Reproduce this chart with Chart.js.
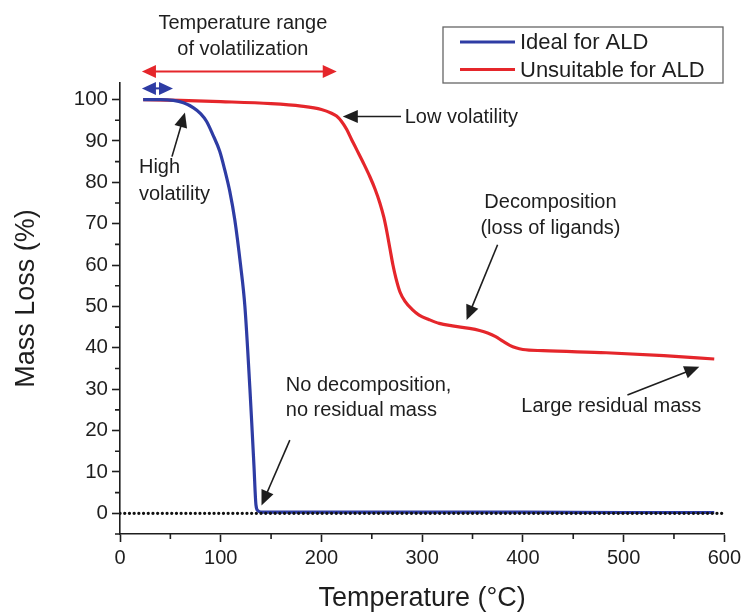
<!DOCTYPE html>
<html>
<head>
<meta charset="utf-8">
<title>TGA curves</title>
<script src="https://cdn.jsdelivr.net/npm/chart.js@4.4.1/dist/chart.umd.min.js"></script>
<style>
  html, body { margin: 0; padding: 0; background: #fff; }
  #wrap { width: 745px; height: 612px; }
</style>
</head>
<body>
<div id="wrap"><canvas id="tgaChart" width="745" height="612"></canvas></div>
<script>
// values
const idealTemp = [23, 40, 53, 63, 73, 80, 86, 92, 99, 104, 109, 114, 119.7, 124, 129, 131.2, 133, 135, 137, 140, 200, 300, 400, 500, 590];
const idealMass = [100, 100, 99.8, 99.2, 98, 96.6, 94.7, 91.6, 87.5, 83, 77.8, 70.9, 60, 50, 30, 20, 11.5, 2, 0.6, 0.3, 0.3, 0.3, 0.3, 0.2, 0.2];

const unsuitTemp = [23, 60, 100, 150, 180, 200, 210, 215, 220, 225, 230, 235, 242, 248, 253, 258, 262, 265, 268, 271, 274, 278, 283, 290, 297, 307, 317, 330, 347, 357, 365, 373, 380, 387, 393, 400, 420, 482.7, 540, 590];
const unsuitMass = [100, 99.8, 99.5, 99, 98.4, 97.6, 96.7, 96, 94.7, 92.8, 90.3, 87.9, 84.5, 81.4, 78.5, 75, 71.5, 68, 64, 60, 56.8, 53.5, 51.2, 49.3, 47.9, 46.8, 45.9, 45.3, 44.7, 44.2, 43.6, 42.7, 41.6, 40.6, 40, 39.6, 39.3, 38.8, 38.1, 37.3];

const baseTemp = [0, 598];
const baseMass = [0, 0];

const seriesNames = ['Ideal for ALD', 'Unsuitable for ALD'];
const xTitle = 'Temperature (°C)';
const yTitle = 'Mass Loss (%)';
const xRange = [0, 600];
const yRange = [-5, 104];

const BLUE = '#2e3ca4';
const RED = '#e5262b';
const INK = '#1e1e1e';
const FONT = '"Liberation Sans", Arial, Helvetica, sans-serif';

Chart.defaults.font.family = FONT;
Chart.defaults.color = INK;

const toPoints = (xs, ys) => xs.map((x, i) => ({ x: x, y: ys[i] }));

// annotation text + arrows, placed in data units
const notes = [
  { lines: ['Temperature range', 'of volatilization'], x: 122, y: 118.4, gap: 6.3, align: 'center' },
  { lines: ['Low volatility'], x: 282.6, y: 95.6, gap: 0, align: 'left' },
  { lines: ['High', 'volatility'], x: 18.8, y: 83.5, gap: 6.5, align: 'left' },
  { lines: ['Decomposition', '(loss of ligands)'], x: 427.4, y: 75.1, gap: 6.3, align: 'center' },
  { lines: ['No decomposition,', 'no residual mass'], x: 164.6, y: 31, gap: 6.1, align: 'left' },
  { lines: ['Large residual mass'], x: 398.4, y: 25.7, gap: 0, align: 'left' }
];
const pointers = [
  { from: [279, 95.9], to: [221.2, 95.9] },
  { from: [51.6, 86.2], to: [64.5, 96.9] },
  { from: [374.9, 64.9], to: [344.1, 46.7] },
  { from: [168.6, 17.7], to: [140.5, 1.9] },
  { from: [503.8, 28.6], to: [575.2, 35.4] }
];
const spans = [
  { from: 21.8, to: 215.2, y: 106.8, color: RED },
  { from: 21.8, to: 52.6, y: 102.7, color: BLUE }
];

function head(ctx, x1, y1, x2, y2, len, half) {
  const a = Math.atan2(y2 - y1, x2 - x1);
  const c = Math.cos(a), s = Math.sin(a);
  ctx.beginPath();
  ctx.moveTo(x2, y2);
  ctx.lineTo(x2 - len * c + half * s, y2 - len * s - half * c);
  ctx.lineTo(x2 - len * c - half * s, y2 - len * s + half * c);
  ctx.closePath();
  ctx.fill();
}

const annotate = {
  id: 'annotate',
  afterDraw(chart) {
    const ctx = chart.ctx;
    const xs = chart.scales.x, ys = chart.scales.y;
    const area = chart.chartArea;
    ctx.save();

    // minor ticks
    ctx.strokeStyle = INK;
    ctx.lineWidth = 1.6;
    ctx.beginPath();
    for (let v = 50; v < 600; v += 100) {
      const px = xs.getPixelForValue(v);
      ctx.moveTo(px, area.bottom);
      ctx.lineTo(px, area.bottom + 5);
    }
    for (let v = -5; v < 100; v += 10) {
      const py = ys.getPixelForValue(v);
      ctx.moveTo(area.left, py);
      ctx.lineTo(area.left - 5, py);
    }
    ctx.stroke();

    // y axis title (sits a little above the centre of the axis)
    ctx.save();
    ctx.translate(27, (area.top + area.bottom) / 2 - 10);
    ctx.rotate(-Math.PI / 2);
    ctx.fillStyle = INK;
    ctx.font = '27px ' + FONT;
    ctx.textAlign = 'center';
    ctx.textBaseline = 'middle';
    ctx.fillText(yTitle, 0, 0);
    ctx.restore();

    // text notes
    ctx.fillStyle = INK;
    ctx.font = '20px ' + FONT;
    ctx.textBaseline = 'middle';
    notes.forEach(n => {
      ctx.textAlign = n.align;
      n.lines.forEach((t, i) => {
        ctx.fillText(t, xs.getPixelForValue(n.x), ys.getPixelForValue(n.y - i * n.gap));
      });
    });

    // black pointer arrows
    ctx.strokeStyle = INK;
    ctx.fillStyle = INK;
    ctx.lineWidth = 1.6;
    pointers.forEach(p => {
      const x1 = xs.getPixelForValue(p.from[0]), y1 = ys.getPixelForValue(p.from[1]);
      const x2 = xs.getPixelForValue(p.to[0]), y2 = ys.getPixelForValue(p.to[1]);
      const a = Math.atan2(y2 - y1, x2 - x1);
      ctx.beginPath();
      ctx.moveTo(x1, y1);
      ctx.lineTo(x2 - 10 * Math.cos(a), y2 - 10 * Math.sin(a));
      ctx.stroke();
      head(ctx, x1, y1, x2, y2, 15, 6.5);
    });

    // double-headed range arrows
    spans.forEach(s => {
      const x1 = xs.getPixelForValue(s.from), x2 = xs.getPixelForValue(s.to);
      const y = ys.getPixelForValue(s.y);
      ctx.strokeStyle = s.color;
      ctx.fillStyle = s.color;
      ctx.lineWidth = 2;
      ctx.beginPath();
      ctx.moveTo(x1 + 8, y);
      ctx.lineTo(x2 - 8, y);
      ctx.stroke();
      head(ctx, x2, y, x1, y, 14, 6.5);
      head(ctx, x1, y, x2, y, 14, 6.5);
    });

    // boxed legend
    const bx = 443, by = 27, bw = 280, bh = 56;
    ctx.strokeStyle = '#666';
    ctx.lineWidth = 1.3;
    ctx.strokeRect(bx, by, bw, bh);
    ctx.font = '22px ' + FONT;
    ctx.textAlign = 'left';
    [0, 1].forEach(i => {
      const ds = chart.data.datasets[i];
      const ly = by + 15 + i * 27.5;
      ctx.strokeStyle = ds.borderColor;
      ctx.lineWidth = 3;
      ctx.beginPath();
      ctx.moveTo(bx + 17, ly);
      ctx.lineTo(bx + 72, ly);
      ctx.stroke();
      ctx.fillStyle = INK;
      ctx.fillText(ds.label, bx + 77, ly + 1);
    });

    ctx.restore();
  }
};

new Chart(document.getElementById('tgaChart'), {
  type: 'line',
  data: {
    datasets: [
      {
        label: seriesNames[0],
        data: toPoints(idealTemp, idealMass),
        borderColor: BLUE,
        borderWidth: 3.2,
        pointRadius: 0,
        cubicInterpolationMode: 'monotone',
        order: 1
      },
      {
        label: seriesNames[1],
        data: toPoints(unsuitTemp, unsuitMass),
        borderColor: RED,
        borderWidth: 3.2,
        pointRadius: 0,
        cubicInterpolationMode: 'monotone',
        order: 2
      },
      {
        label: 'baseline',
        data: toPoints(baseTemp, baseMass),
        borderColor: '#111',
        borderWidth: 3.2,
        borderDash: [0.1, 4.6],
        borderCapStyle: 'round',
        pointRadius: 0,
        order: 0
      }
    ]
  },
  options: {
    responsive: false,
    animation: false,
    layout: { padding: { left: 0, top: 83, right: 20, bottom: 0 } },
    plugins: {
      legend: { display: false },
      tooltip: { enabled: false }
    },
    scales: {
      x: {
        type: 'linear',
        min: xRange[0],
        max: xRange[1],
        afterFit: s => { s.height = 78; },
        border: { display: true, color: INK, width: 1.6 },
        grid: {
          drawOnChartArea: false,
          drawTicks: true,
          tickLength: 8,
          tickWidth: 1.6,
          tickColor: c => (c.tick && c.tick.value % 100 === 0) ? INK : 'rgba(0,0,0,0)'
        },
        ticks: {
          stepSize: 50,
          includeBounds: false,
          maxRotation: 0,
          autoSkip: false,
          padding: 4,
          font: { size: 20 },
          callback: v => (v % 100 === 0 ? String(v) : '')
        },
        title: {
          display: true,
          text: xTitle,
          font: { size: 27, lineHeight: 1.0 },
          padding: { top: 0, bottom: 0 }
        }
      },
      y: {
        min: yRange[0],
        max: yRange[1],
        afterFit: s => { s.width = 120; },
        border: { display: true, color: INK, width: 1.6 },
        grid: {
          drawOnChartArea: false,
          drawTicks: true,
          tickLength: 8,
          tickWidth: 1.6,
          tickColor: c => (c.tick && c.tick.value % 10 === 0) ? INK : 'rgba(0,0,0,0)'
        },
        ticks: {
          stepSize: 5,
          includeBounds: false,
          autoSkip: false,
          padding: 4,
          font: { size: 20.5 },
          callback: v => (v % 10 === 0 ? String(v) : '')
        }
      }
    }
  },
  plugins: [annotate]
});
</script>
</body>
</html>
